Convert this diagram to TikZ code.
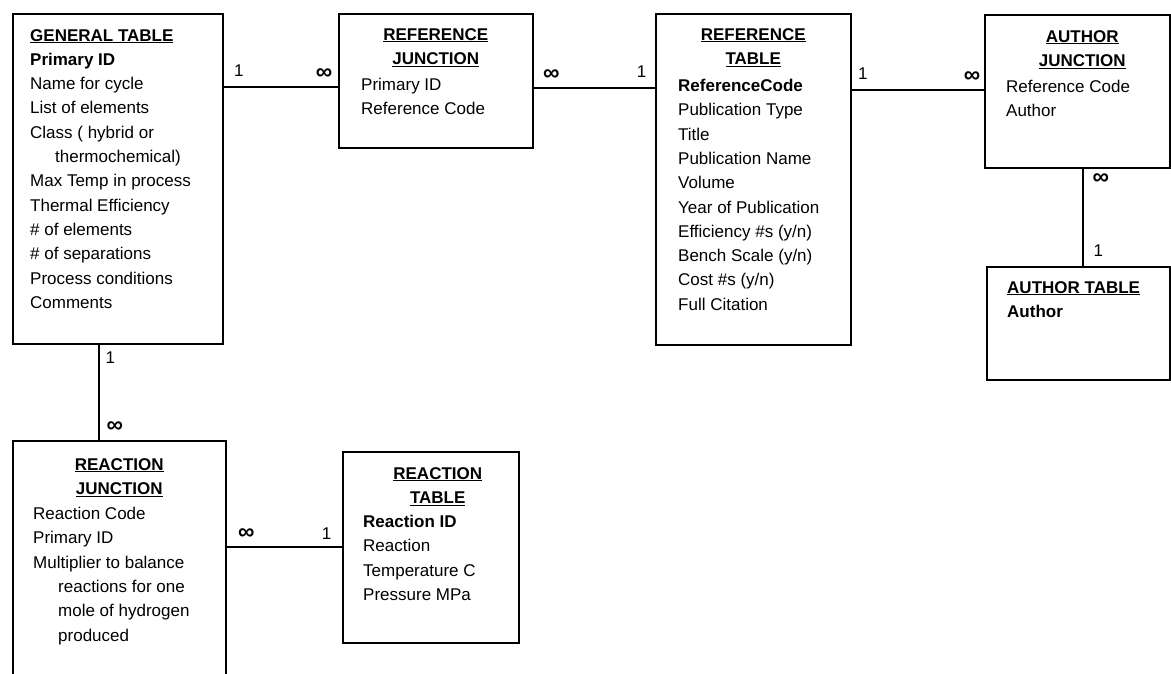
\documentclass[tikz,border=0pt]{standalone}
\usepackage{fontspec}
\setmainfont{Liberation Sans}
\usetikzlibrary{positioning}
\newcommand{\fsz}{\fontsize{17}{24.3}\selectfont}
\newcommand{\hd}[1]{\underline{\textbf{#1}}}
\newcommand{\ind}{\hspace*{25pt}}
\tikzset{
    tbl/.style={draw, line width=1.5pt, inner sep=0pt, anchor=north west},
    ttl/.style={font=\fsz\bfseries, align=center, inner sep=0pt},
    fields/.style={align=left, inner sep=0pt},
    link/.style={-, line width=1.3pt},
    card/.style={inner sep=0pt},
    many/.style={card, font=\fontsize{23}{23}\selectfont\bfseries},
}
\begin{document}
\begin{tikzpicture}[x=1pt, y=-1pt, every node/.style={font=\fsz}]
    \useasboundingbox (0,0) rectangle (1171,673);
    % tables
    \node[tbl, minimum width=210pt, minimum height=330pt] (gen) at (12,13) {};
    \node[tbl, minimum width=194pt, minimum height=134pt] (refj) at (338,13) {};
    \node[tbl, minimum width=195pt, minimum height=331pt] (reft) at (655,13) {};
    \node[tbl, minimum width=185pt, minimum height=153pt] (authj) at (984,14) {};
    \node[tbl, minimum width=183pt, minimum height=113pt] (autht) at (986,266) {};
    \node[tbl, minimum width=213pt, minimum height=260pt] (reacj) at (12,440) {};
    \node[tbl, minimum width=176pt, minimum height=191pt] (react) at (342,451) {};
    % titles
    \node[ttl, below=15pt of refj.north] (refj-t) {\underline{REFERENCE}\\\underline{JUNCTION}};
    \node[ttl, below=15pt of reft.north] (reft-t) {\underline{REFERENCE}\\\underline{TABLE}};
    \node[ttl, below=16pt of authj.north, xshift=5pt] (authj-t) {\underline{AUTHOR}\\\underline{JUNCTION}};
    \node[ttl, below=18pt of reacj.north] (reacj-t) {\underline{REACTION}\\\underline{JUNCTION}};
    \node[ttl, below=16pt of react.north, xshift=7pt] (react-t) {\underline{REACTION}\\\underline{TABLE}};
    % fields
    \node[fields, below right=16pt and 18pt of gen.north west] (gen-f)
        {\hd{GENERAL TABLE}\\ \textbf{Primary ID}\\ Name for cycle\\ List of elements\\
         Class ( hybrid or\\ \ind thermochemical)\\ Max Temp in process\\
         Thermal Efficiency\\ \# of elements\\ \# of separations\\
         Process conditions\\ Comments};
    \node[fields, below right=65pt and 23pt of refj.north west] (refj-f)
        {Primary ID\\ Reference Code};
    \node[fields, below right=66pt and 23pt of reft.north west] (reft-f)
        {\textbf{ReferenceCode}\\ Publication Type\\ Title\\ Publication Name\\ Volume\\
         Year of Publication\\ Efficiency \#s (y/n)\\ Bench Scale (y/n)\\
         Cost \#s (y/n)\\ Full Citation};
    \node[fields, below right=66pt and 22pt of authj.north west] (authj-f)
        {Reference Code\\ Author};
    \node[fields, below right=15pt and 21pt of autht.north west] (autht-f)
        {\hd{AUTHOR TABLE}\\ \textbf{Author}};
    \node[fields, below right=67pt and 21pt of reacj.north west] (reacj-f)
        {Reaction Code\\ Primary ID\\ Multiplier to balance\\ \ind reactions for one\\
         \ind mole of hydrogen\\ \ind produced};
    \node[fields, below right=64pt and 21pt of react.north west] (react-f)
        {\textbf{Reaction ID}\\ Reaction\\ Temperature C\\ Pressure MPa};
    % relations
    \draw[link] (gen.east |- 0,87) -- (refj.west |- 0,87)
        node[card, pos=0, above right=10pt and 10pt] (c1a) {1}
        node[many, pos=1, above left=7pt and 5pt] (c1b) {∞};
    \draw[link] (refj.east |- 0,88) -- (reft.west |- 0,88)
        node[many, pos=0, above right=7pt and 9pt] (c2a) {∞}
        node[card, pos=1, above left=10pt and 8pt] (c2b) {1};
    \draw[link] (reft.east |- 0,90) -- (authj.west |- 0,90)
        node[card, pos=0, above right=10pt and 6pt] (c3a) {1}
        node[many, pos=1, above left=7pt and 3pt] (c3b) {∞};
    \draw[link] (authj.south -| 1083,0) -- (autht.north -| 1083,0)
        node[many, pos=0, below right=5pt and 9pt] (c4a) {∞}
        node[card, pos=1, above right=9pt and 10pt] (c4b) {1};
    \draw[link] (gen.south -| 99,0) -- (reacj.north -| 99,0)
        node[card, pos=0, below right=7pt and 6pt] (c5a) {1}
        node[many, pos=1, above right=7pt and 7pt] (c5b) {∞};
    \draw[link] (reacj.east |- 0,547) -- (react.west |- 0,547)
        node[many, pos=0, above right=7pt and 11pt] (c6a) {∞}
        node[card, pos=1, above left=7pt and 10pt] (c6b) {1};
\end{tikzpicture}
\end{document}
